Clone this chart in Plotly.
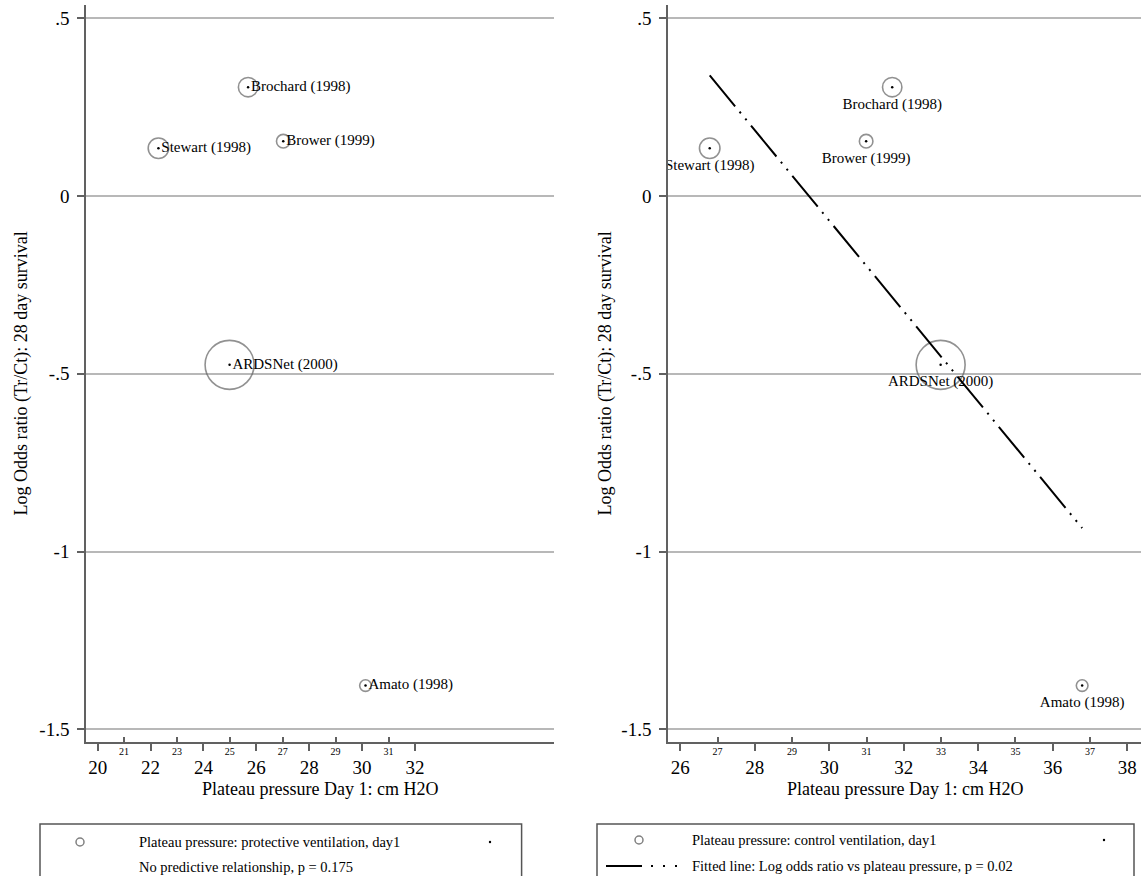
import plotly.graph_objects as go
import numpy as np

# ---------------- data ----------------
studies = ["Amato (1998)", "Brochard (1998)", "Brower (1999)", "Stewart (1998)", "ARDSNet (2000)"]
log_odds_ratio = [-1.377, 0.306, 0.154, 0.134, -0.475]
pplat_protective = [30.13, 25.69, 27.02, 22.30, 24.99]
pplat_control = [36.79, 31.69, 30.99, 26.79, 32.99]
study_weight = [34, 94, 46, 105, 600]          # relative circle areas

fit_x = [26.79, 36.79]
fit_y = [0.339, -0.934]

major_ticks_left = [20, 22, 24, 26, 28, 30, 32]
minor_ticks_left = [21, 23, 25, 27, 29, 31]
major_ticks_right = [26, 28, 30, 32, 34, 36, 38]
minor_ticks_right = [27, 29, 31, 33, 35, 37]
y_ticks = [0.5, 0, -0.5, -1, -1.5]
y_ticktext = [".5", "0", "-.5", "-1", "-1.5"]

x_title = "Plateau pressure Day 1: cm H2O"
y_title = "Log Odds ratio (Tr/Ct): 28 day survival"
legend_left = ["Plateau pressure: protective ventilation, day1", "No predictive relationship, p = 0.175"]
legend_right = ["Plateau pressure: control ventilation, day1", "Fitted line: Log odds ratio vs plateau pressure, p = 0.02"]

# ---------------- layout helpers ----------------
W, H = 1141, 876
FONT = "Liberation Serif"
def X(px): return px / W
def Y(py): return 1 - py / H

AX = "#616161"
GRID = "#b8b8b8"
CIRC = "#626262"
sizes = [2 * np.sqrt(w) for w in study_weight]

fig = go.Figure()

for xs, xa, ya, tpos, lab_size in [(pplat_protective, "x", "y", "middle right", 3),
                                   (pplat_control, "x2", "y2", "bottom center", 15)]:
    fig.add_trace(go.Scatter(
        x=xs, y=log_odds_ratio, xaxis=xa, yaxis=ya, mode="markers",
        marker=dict(symbol="circle-open", size=sizes, color=CIRC, line=dict(width=1.6)),
        showlegend=False, hoverinfo="skip"))
    if xa == "x2":
        fig.add_trace(go.Scatter(
            x=fit_x, y=fit_y, xaxis=xa, yaxis=ya, mode="lines",
            line=dict(color="black", width=2, dash="40px,7px,2px,7px,2px,7px"),
            showlegend=False, hoverinfo="skip"))
    # centre dots
    fig.add_trace(go.Scatter(
        x=xs, y=log_odds_ratio, xaxis=xa, yaxis=ya, mode="markers",
        marker=dict(size=2.5, color="black"),
        showlegend=False, hoverinfo="skip"))
    # study labels
    fig.add_trace(go.Scatter(
        x=xs, y=log_odds_ratio, xaxis=xa, yaxis=ya, mode="text+markers",
        text=studies, textposition=tpos,
        textfont=dict(family=FONT, size=15, color="black"),
        marker=dict(size=lab_size, color="rgba(0,0,0,0)"),
        showlegend=False, hoverinfo="skip"))

# empty traces for overlay (minor-label) axes
fig.add_trace(go.Scatter(x=[], y=[], xaxis="x3", yaxis="y", showlegend=False))
fig.add_trace(go.Scatter(x=[], y=[], xaxis="x4", yaxis="y2", showlegend=False))

ydom = [Y(742.3), Y(5)]
left_dom = [X(86), X(553.5)]
right_dom = [X(668), 1.0]
left_range = [19.56, 37.24]
right_range = [25.67, 38.37]

def xaxis_major(dom, rng, ticks, anchor):
    return dict(domain=dom, range=rng, anchor=anchor, tickmode="array", tickvals=ticks,
                ticks="outside", ticklen=7, tickwidth=1.5, tickcolor=AX,
                showline=True, linecolor=AX, linewidth=1.5, showgrid=False, zeroline=False,
                tickfont=dict(family=FONT, size=19, color="black"), fixedrange=True)

def xaxis_minor(rng, ticks, anchor, over):
    return dict(range=rng, anchor=anchor, overlaying=over, tickmode="array", tickvals=ticks,
                ticks="inside", ticklen=5, tickwidth=1.5, tickcolor=AX, side="bottom",
                showline=False, showgrid=False, zeroline=False, ticklabelstandoff=2,
                tickfont=dict(family=FONT, size=10, color="black"), fixedrange=True)

def yaxis_def(anchor):
    return dict(domain=ydom, range=[-1.5365, 0.537], anchor=anchor, tickmode="array",
                tickvals=y_ticks, ticktext=y_ticktext, ticks="outside", ticklen=7,
                tickwidth=1.5, tickcolor=AX, showline=True, linecolor=AX, linewidth=1.5,
                showgrid=True, gridcolor=GRID, gridwidth=1.5, zeroline=False,
                ticklabelstandoff=4,
                tickfont=dict(family=FONT, size=19, color="black"), fixedrange=True)

annotations = []
for xc in [(86 + 553.5) / 2, (668 + 1141) / 2]:
    annotations.append(dict(text=x_title, x=X(xc), y=Y(789), xref="paper", yref="paper",
                            showarrow=False, xanchor="center", yanchor="middle",
                            font=dict(family=FONT, size=18, color="black")))
for xc in [22, 606]:
    annotations.append(dict(text=y_title, x=X(xc), y=Y(373.6), xref="paper", yref="paper",
                            showarrow=False, textangle=-90, xanchor="center", yanchor="middle",
                            font=dict(family=FONT, size=18, color="black")))
for (tx, lines, rows) in [(137, legend_left, (842, 867)), (690, legend_right, (840, 866))]:
    for txt, ry in zip(lines, rows):
        annotations.append(dict(text=txt, x=X(tx), y=Y(ry), xref="paper", yref="paper",
                                showarrow=False, xanchor="left", yanchor="middle",
                                font=dict(family=FONT, size=14.5, color="black")))

shapes = []
for (bx0, bx1, by) in [(40, 521.6, 824), (597, 1134, 824)]:
    shapes.append(dict(type="rect", xref="paper", yref="paper", x0=X(bx0), x1=X(bx1),
                       y0=Y(920), y1=Y(by), line=dict(color="#555555", width=1.5)))
for (cx, cy) in [(80, 842), (639, 840)]:
    shapes.append(dict(type="circle", xref="paper", yref="paper", x0=X(cx - 4), x1=X(cx + 4),
                       y0=Y(cy + 4), y1=Y(cy - 4), line=dict(color="#808080", width=1.5)))
for (dx, dy) in [(490, 842), (1104, 840)]:
    shapes.append(dict(type="circle", xref="paper", yref="paper", x0=X(dx - 1.2), x1=X(dx + 1.2),
                       y0=Y(dy + 1.2), y1=Y(dy - 1.2), fillcolor="black", line=dict(width=0)))
shapes.append(dict(type="line", xref="paper", yref="paper", x0=X(606), x1=X(679),
                   y0=Y(866), y1=Y(866),
                   line=dict(color="black", width=2, dash="36px,9px,2px,10px,2px,10px,2px")))

fig.update_layout(
    width=W, height=H, margin=dict(l=0, r=0, t=0, b=0),
    paper_bgcolor="white", plot_bgcolor="white",
    font=dict(family=FONT, color="black"),
    xaxis=xaxis_major(left_dom, left_range, major_ticks_left, "y"),
    xaxis2=xaxis_major(right_dom, right_range, major_ticks_right, "y2"),
    xaxis3=xaxis_minor(left_range, minor_ticks_left, "y", "x"),
    xaxis4=xaxis_minor(right_range, minor_ticks_right, "y2", "x2"),
    yaxis=yaxis_def("x"),
    yaxis2=yaxis_def("x2"),
    annotations=annotations, shapes=shapes, showlegend=False,
)

fig.write_html("out.html")
